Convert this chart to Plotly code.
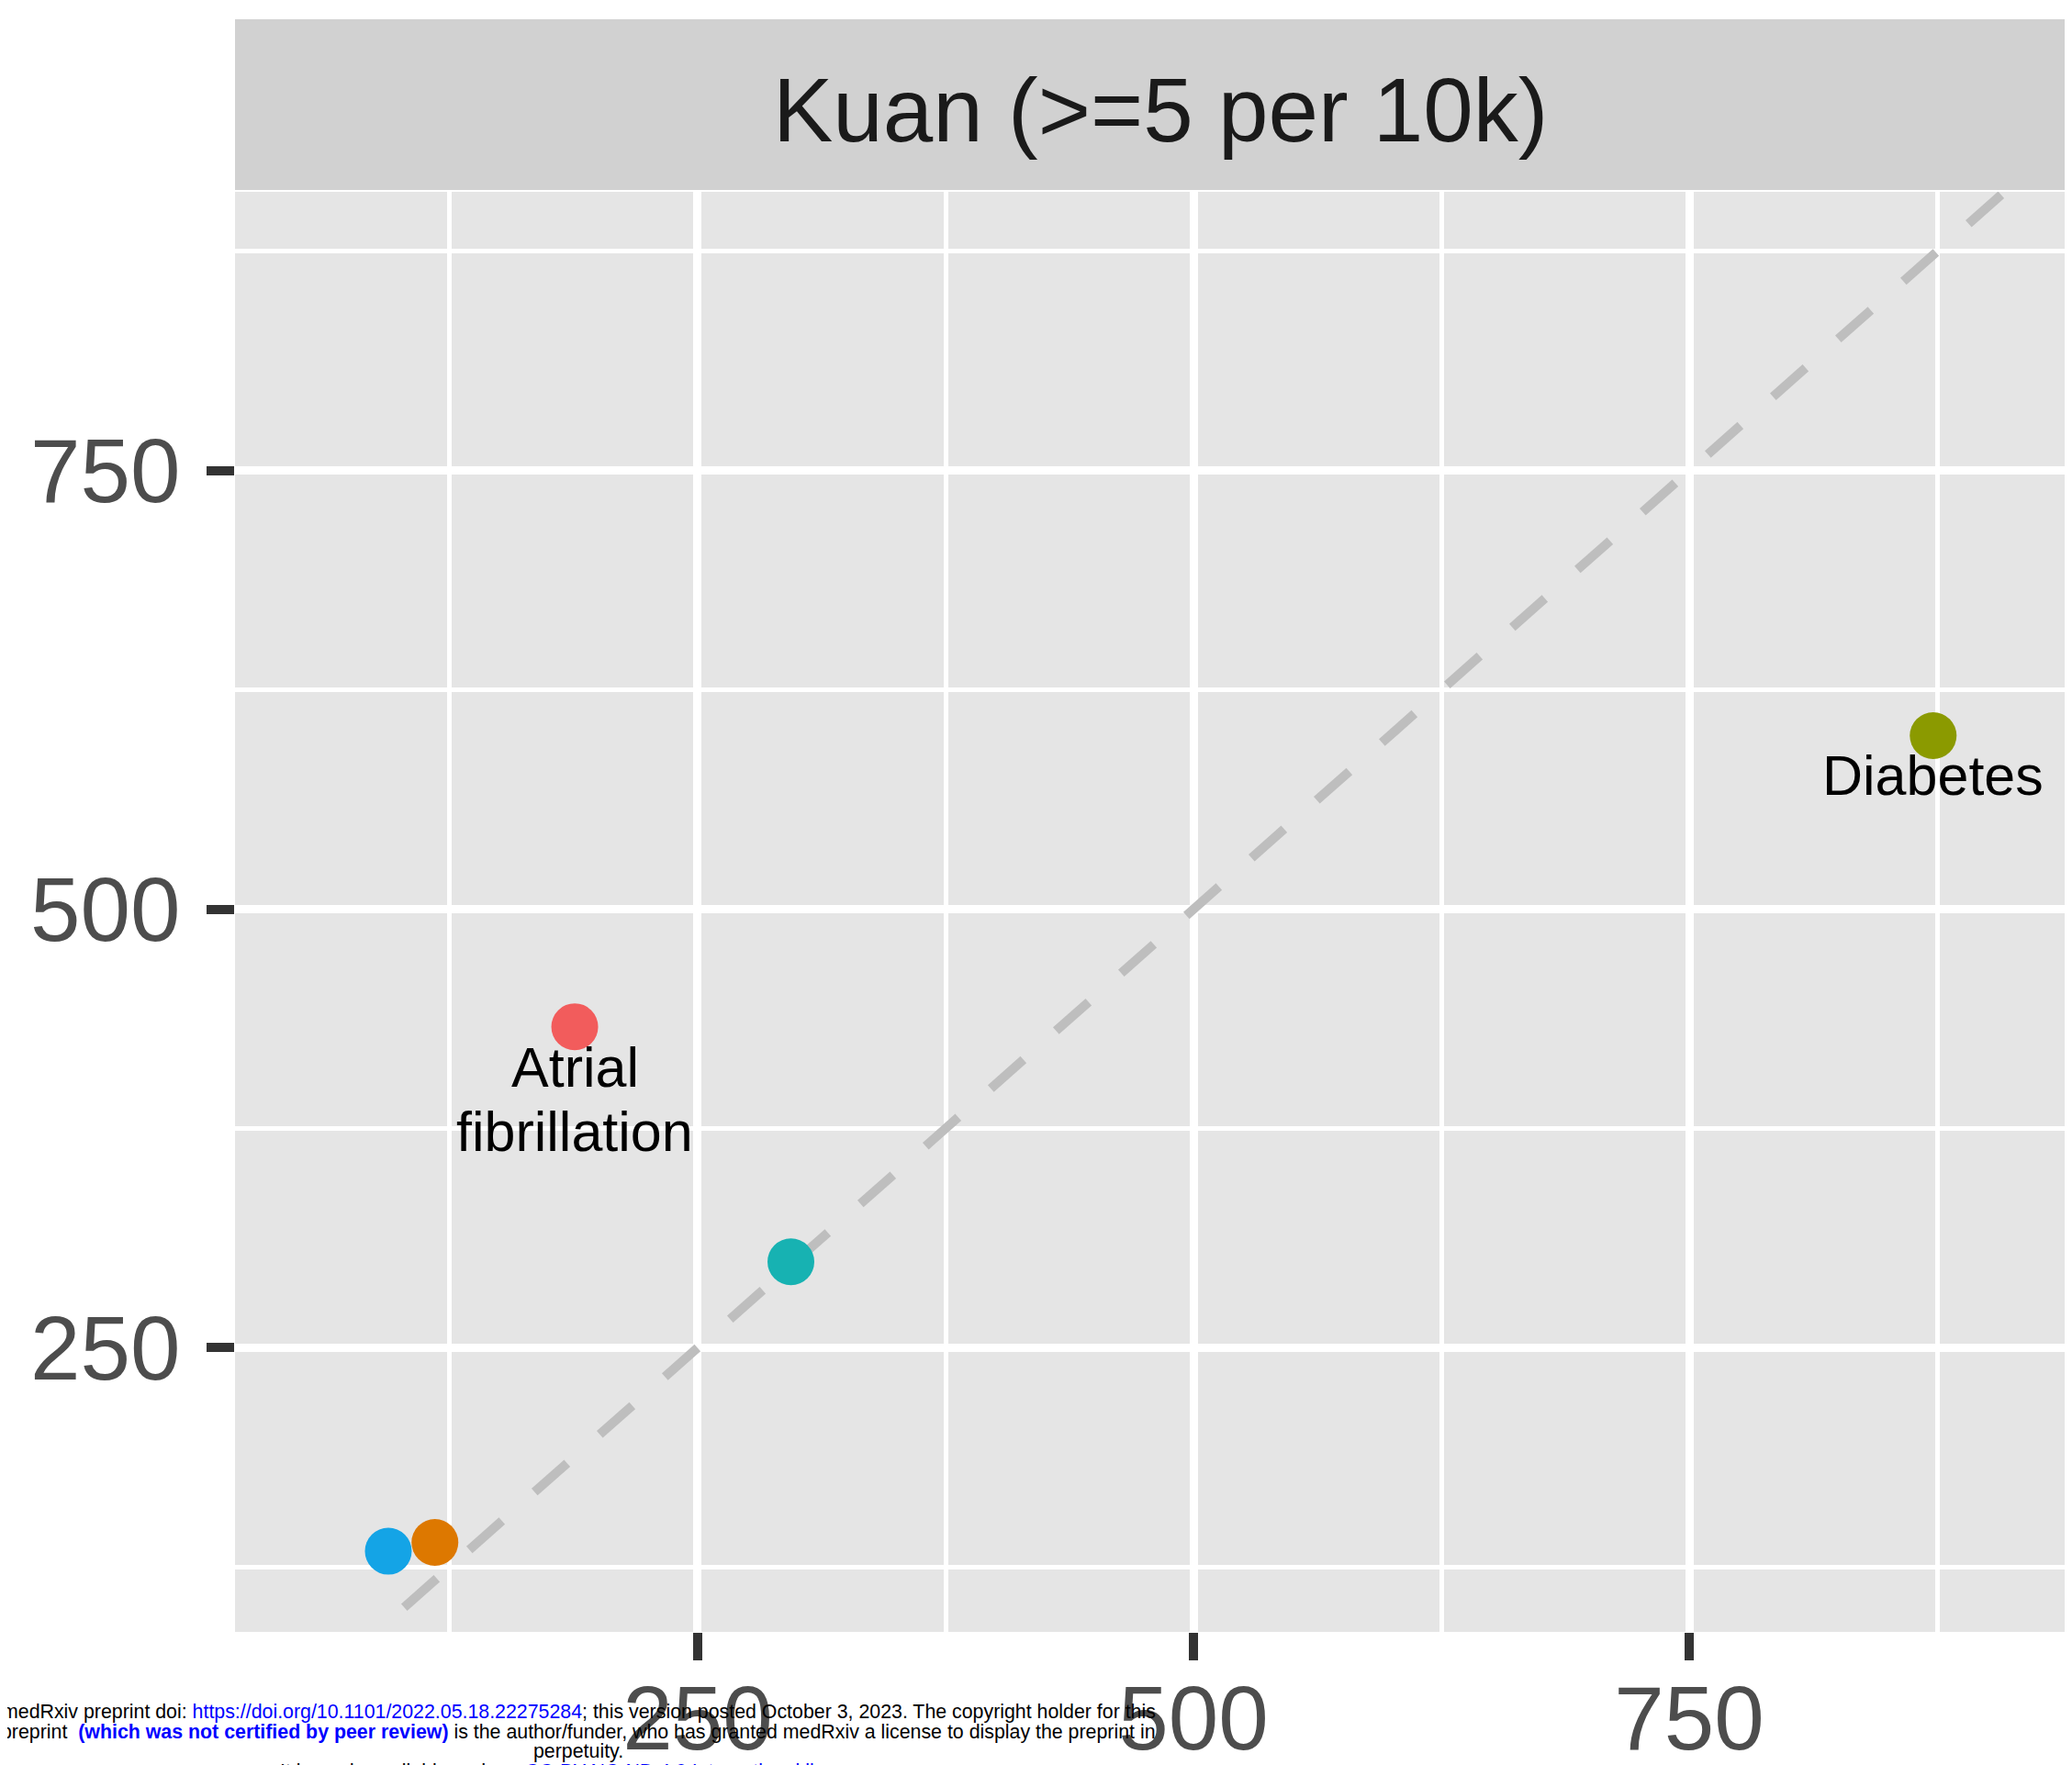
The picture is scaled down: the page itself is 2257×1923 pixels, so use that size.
import plotly.graph_objects as go

# ---- data ----
point_x = [188, 873, 297, 94, 117.5]
point_y = [433, 599, 299, 134, 139]
point_labels = ["Atrial\nfibrillation", "Diabetes", "", "", ""]
point_colors = ["#F25C5C", "#8B9A00", "#17B2B2", "#14A4E6", "#DD7800"]

identity_x = [102, 925]
identity_y = [102, 925]

major_ticks = [250, 500, 750]
tick_text = ["250", "500", "750"]
minor_ticks = [125, 375, 625, 875]

panel_title = "Kuan (>=5 per 10k)"

watermark_lines = [
    'medRxiv preprint doi: <span style="color:#0000FF">https://doi.org/10.1101/2022.05.18.22275284</span>; this version posted October 3, 2023. The copyright holder for this',
    'preprint  <b><span style="color:#0000FF">(which was not certified by peer review)</span></b> is the author/funder, who has granted medRxiv a license to display the preprint in',
    'perpetuity.',
    'It is made available under a <span style="color:#0000FF">CC-BY-NC-ND 4.0 International license</span> .',
]

# ---- layout constants (pixels, page has an 8px body margin) ----
OFF = 8
W, H = 2257 - OFF, 1923 - OFF
L, R, T, B = 256 - OFF, 0, 209 - OFF, 145
PH = H - T - B
PW = W - L - R
FONT = "Liberation Sans, Arial, sans-serif"


def py2paper(py):
    # py given in page pixels
    return (H - B - (py - OFF)) / PH


def px2paper(px):
    return (px - OFF - L) / PW


fig = go.Figure()

fig.add_trace(go.Scatter(
    x=identity_x, y=identity_y, mode="lines",
    line=dict(color="#BEBEBE", width=10, dash="47.4px,47.4px"),
    hoverinfo="skip", showlegend=False,
))

fig.add_trace(go.Scatter(
    x=point_x, y=point_y, mode="markers",
    marker=dict(size=51, color=point_colors, line=dict(width=0)),
    showlegend=False,
))

annotations = []
for x, y, lab in zip(point_x, point_y, point_labels):
    if not lab:
        continue
    for i, line in enumerate(lab.split("\n")):
        annotations.append(dict(
            x=x, y=y, xref="x", yref="y", text=line, showarrow=False,
            xanchor="center", yanchor="top", yshift=-8 - i * 70,
            font=dict(family=FONT, size=61, color="#000000"),
        ))

# strip title
annotations.append(dict(
    x=px2paper(1264), y=py2paper(120), xref="paper", yref="paper",
    text=panel_title, showarrow=False, xanchor="center", yanchor="middle",
    font=dict(family=FONT, size=98, color="#1A1A1A"),
))

# watermark
for i, line in enumerate(watermark_lines):
    annotations.append(dict(
        x=px2paper(630), y=py2paper(1865 + i * 21.5), xref="paper", yref="paper",
        text=line, showarrow=False, xanchor="center", yanchor="middle",
        font=dict(family=FONT, size=21.35, color="#000000"),
    ))

fig.update_layout(
    width=W, height=H,
    margin=dict(l=L, r=R, t=T, b=B, pad=0, autoexpand=False),
    paper_bgcolor="#FFFFFF", plot_bgcolor="#E5E5E5",
    showlegend=False,
    annotations=annotations,
    shapes=[dict(
        type="rect", xref="paper", yref="paper",
        x0=0, x1=1.01, y0=py2paper(207), y1=py2paper(21),
        fillcolor="#D1D1D1", line=dict(width=0), layer="below",
    )],
)

axis_common = dict(
    tickmode="array", tickvals=major_ticks, ticktext=tick_text,
    ticks="outside", ticklen=30, tickwidth=10, tickcolor="#333333",
    tickfont=dict(family=FONT, size=98, color="#4D4D4D"),
    showgrid=True, gridcolor="#FFFFFF", gridwidth=9,
    minor=dict(tickmode="array", tickvals=minor_ticks, showgrid=True,
               gridcolor="#FFFFFF", gridwidth=5, ticks=""),
    zeroline=False, showline=False, automargin=False,
)

fig.update_xaxes(range=[16.7, 943], ticklabelstandoff=-21, **axis_common)
fig.update_yaxes(range=[88, 909], ticklabelstandoff=9, **axis_common)

fig.write_html("out.html", config={"displayModeBar": False})
